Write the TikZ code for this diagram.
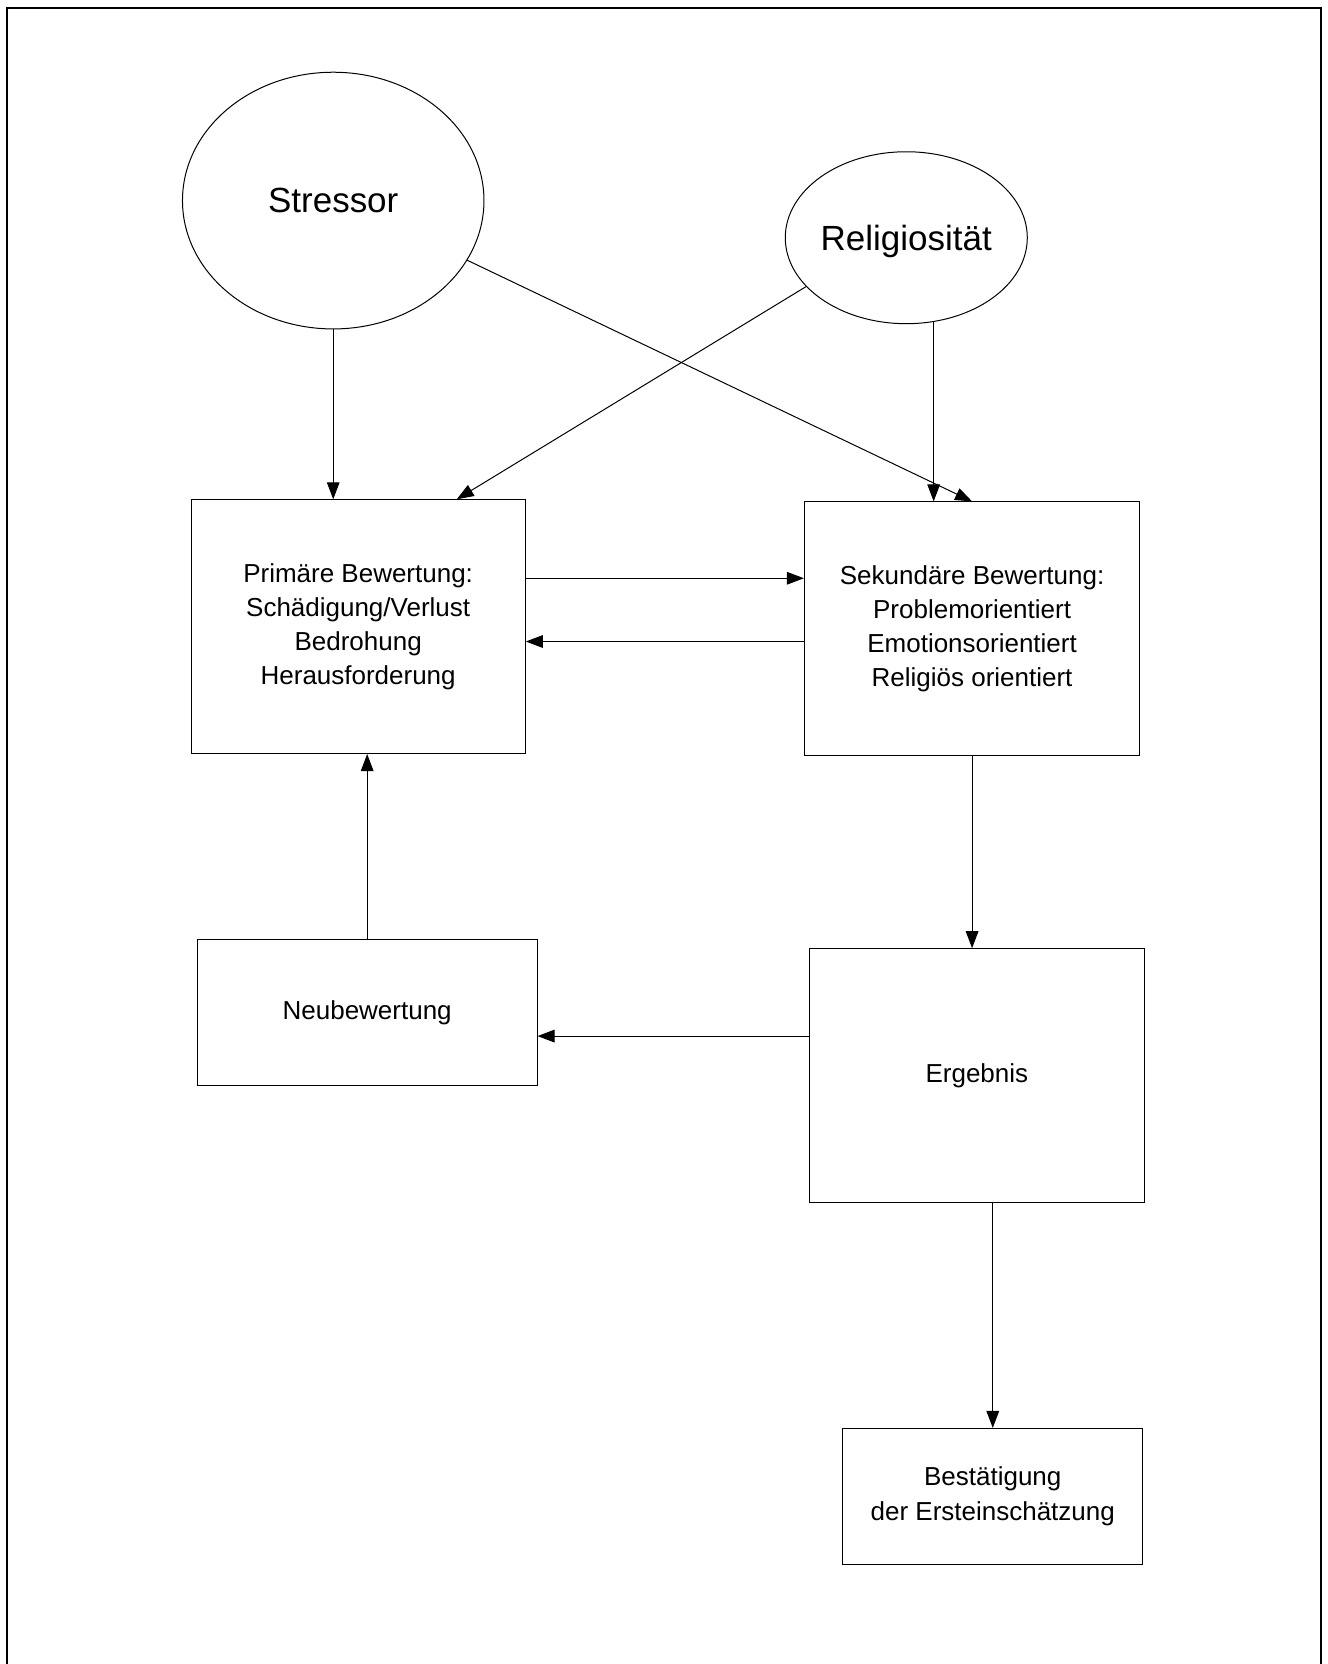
\documentclass[tikz,border=0pt]{standalone}
\usepackage{fontspec}
\setmainfont{Liberation Sans}
\usetikzlibrary{shapes.geometric,arrows.meta,calc}
\begin{document}
\begin{tikzpicture}[x=0.5308pt,y=-0.5308pt,
  box/.style={draw,line width=0.5pt,rectangle,inner sep=0pt,align=center,font=\fontsize{13}{17.1}\selectfont},
  oval/.style={draw,line width=0.5pt,ellipse,inner sep=0pt,font=\fontsize{17.5}{21}\selectfont},
  conn/.style={line width=0.5pt,-{Triangle[length=8.5pt,width=6.3pt]}}]
\useasboundingbox (0,0) rectangle (1251,1568);
\draw[line width=1pt] (6.6,1568) -- (6.6,7.5) -- (1244.4,7.5) -- (1244.4,1568);
% nodes
\node[oval,minimum width=150.8pt,minimum height=128.4pt] (stressor) at (314,189) {Stressor};
\node[oval,minimum width=120pt,minimum height=86pt,text depth=0pt] (relig) at (854,224) {Religiosität};
\node[box,minimum width=167.2pt,minimum height=126.9pt] (prim) at (337.5,590.5)
  {Primäre Bewertung:\\Schädigung/Verlust\\Bedrohung\\Herausforderung};
\node[box,minimum width=167.7pt,minimum height=126.9pt] (sek) at (916,592.5)
  {Sekundäre Bewertung:\\Problemorientiert\\Emotionsorientiert\\Religiös orientiert};
\node[box,minimum width=169.9pt,minimum height=73.3pt] (neu) at (346,954) {Neubewertung};
\node[box,minimum width=167.2pt,minimum height=126.9pt] (erg) at (920.5,1013.5) {Ergebnis};
\node[box,minimum width=150.2pt,minimum height=67.9pt] (best) at (935.5,1410) {Bestätigung\\der Ersteinschätzung};
% helper coordinates
\coordinate (pin) at ($(prim.north west)!0.794!(prim.north east)$);
\coordinate (pa) at ($(prim.north east)!0.31!(prim.south east)$);
\coordinate (sb) at ($(sek.north west)!0.55!(sek.south west)$);
\coordinate (eb) at ($(erg.north west)!0.345!(erg.south west)$);
% connectors
\draw[conn] (stressor.south) -- (stressor.south |- prim.north);
\draw[conn] (stressor.-24) -- (sek.north);
\draw[conn] (relig.206.6) -- (pin);
\draw[conn] (relig.-72) -- (relig.-72 |- sek.north);
\draw[conn] (pa) -- (pa -| sek.west);
\draw[conn] (sb) -- (sb -| prim.east);
\draw[conn] (sek.south) -- (sek.south |- erg.north);
\draw[conn] (eb) -- (eb -| neu.east);
\draw[conn] (neu.north) -- (neu.north |- prim.south);
\draw[conn] (best.north |- erg.south) -- (best.north);
\end{tikzpicture}
\end{document}
